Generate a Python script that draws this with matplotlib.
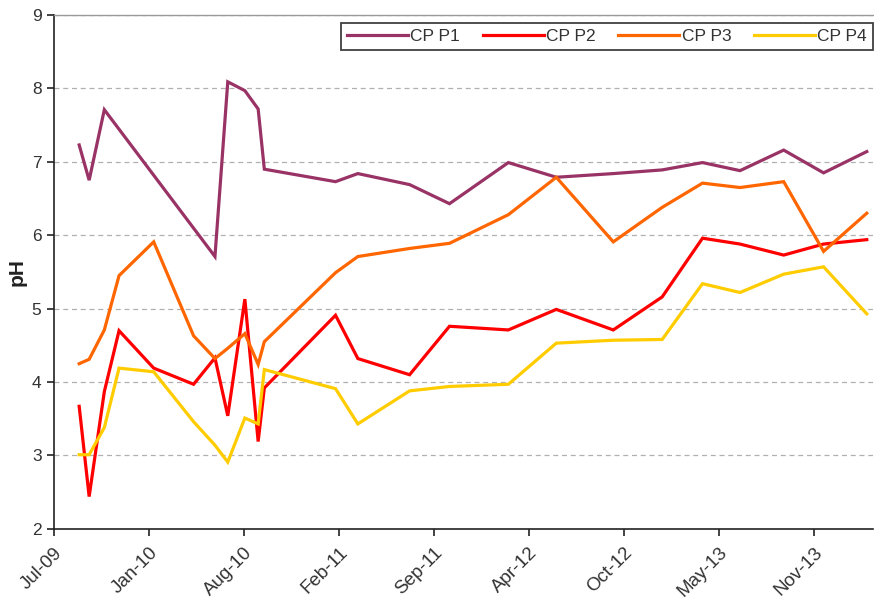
import numpy as np
import pandas as pd
import matplotlib
matplotlib.use("Agg")
import matplotlib.pyplot as plt
import matplotlib.dates as mdates

plt.rcParams['font.family'] = ['Liberation Sans', 'DejaVu Sans']

# sampling dates (shared by all four points)
dates = pd.to_datetime([
    "2009-08-28", "2009-09-18", "2009-10-20", "2009-11-20", "2010-02-01",
    "2010-04-26", "2010-06-10", "2010-07-07", "2010-08-12", "2010-09-09",
    "2010-09-22", "2011-02-19", "2011-04-07", "2011-07-25", "2011-10-17",
    "2012-02-18", "2012-05-29", "2012-09-26", "2013-01-07", "2013-04-02",
    "2013-06-20", "2013-09-20", "2013-12-13", "2014-03-14",
])

nan = np.nan
cp_p1 = [7.23, 6.75, 7.71, nan, nan, nan, 5.71, 8.09, 7.97, 7.72,
         6.90, 6.73, 6.84, 6.69, 6.43, 6.99, 6.79, 6.84, 6.89, 6.99,
         6.88, 7.16, 6.85, 7.14]
cp_p2 = [3.67, 2.44, 3.87, 4.70, 4.19, 3.97, 4.33, 3.54, 5.13, 3.19,
         3.92, 4.91, 4.32, 4.10, 4.76, 4.71, 4.99, 4.71, 5.16, 5.96,
         5.88, 5.73, 5.88, 5.94]
cp_p3 = [4.25, 4.31, 4.71, 5.45, 5.91, 4.63, 4.32, 4.46, 4.66, 4.24,
         4.55, 5.49, 5.71, 5.82, 5.89, 6.28, 6.79, 5.91, 6.38, 6.71,
         6.65, 6.73, 5.78, 6.30]
cp_p4 = [3.01, 3.01, 3.38, 4.19, 4.14, 3.46, 3.14, 2.91, 3.51, 3.43,
         4.17, 3.91, 3.43, 3.88, 3.94, 3.97, 4.53, 4.57, 4.58, 5.34,
         5.22, 5.47, 5.57, 4.93]

series = {"CP P1": cp_p1, "CP P2": cp_p2, "CP P3": cp_p3, "CP P4": cp_p4}
colors = ["#993366", "#FF0000", "#FF6600", "#FFCC00"]

# x axis: Excel style, one major tick every 200 days
x_start = pd.Timestamp("2009-07-06")
x_end = pd.Timestamp("2014-03-27")
tick_dates = pd.date_range(x_start, periods=9, freq="200D")

fig = plt.figure(figsize=(8.74, 6.01), dpi=100)
ax = fig.add_axes([0.0618, 0.12, 0.937, 0.855])

for (name, vals), c in zip(series.items(), colors):
    v = np.array(vals, dtype=float)
    ok = ~np.isnan(v)
    ax.plot(dates[ok], v[ok], color=c, lw=2.3, label=name, solid_joinstyle='miter')

ax.set_xlim(x_start, x_end)
ax.set_ylim(2, 9)
ax.set_yticks(range(2, 10))
ax.set_xticks(tick_dates)
ax.xaxis.set_major_formatter(mdates.DateFormatter("%b-%y"))

ax.grid(axis='y', color='#b0b0b0', ls=(0, (4, 3)), lw=0.9)
ax.set_axisbelow(True)

for s in ['left', 'bottom']:
    ax.spines[s].set_color('#222222')
    ax.spines[s].set_linewidth(1.2)
ax.spines['top'].set_color('#999999')
ax.spines['top'].set_linewidth(1.0)
ax.spines['right'].set_visible(False)

ax.tick_params(axis='y', direction='out', length=5, width=1.2, color='#222222',
               labelsize=12.5, labelcolor='#333333', pad=4)
ax.tick_params(axis='x', direction='out', length=5, width=1.2, color='#222222',
               labelsize=13.5, labelcolor='#333333', pad=6)
for lab in ax.get_xticklabels():
    lab.set_rotation(45)
    lab.set_ha('right')
    lab.set_rotation_mode('anchor')

ax.set_ylabel("pH", fontsize=15, fontweight='bold', color='#222222', labelpad=4)

leg = ax.legend(loc='upper right', ncol=4, bbox_to_anchor=(1.0, 0.985),
                frameon=True, fancybox=False, fontsize=12.5, handlelength=3.5,
                columnspacing=1.3, handletextpad=0.15, borderpad=0.35,
                borderaxespad=0.0)
leg.get_frame().set_edgecolor('#111111')
leg.get_frame().set_linewidth(1.3)
for t in leg.get_texts():
    t.set_color('#333333')

fig.savefig("out.png", dpi=100)
